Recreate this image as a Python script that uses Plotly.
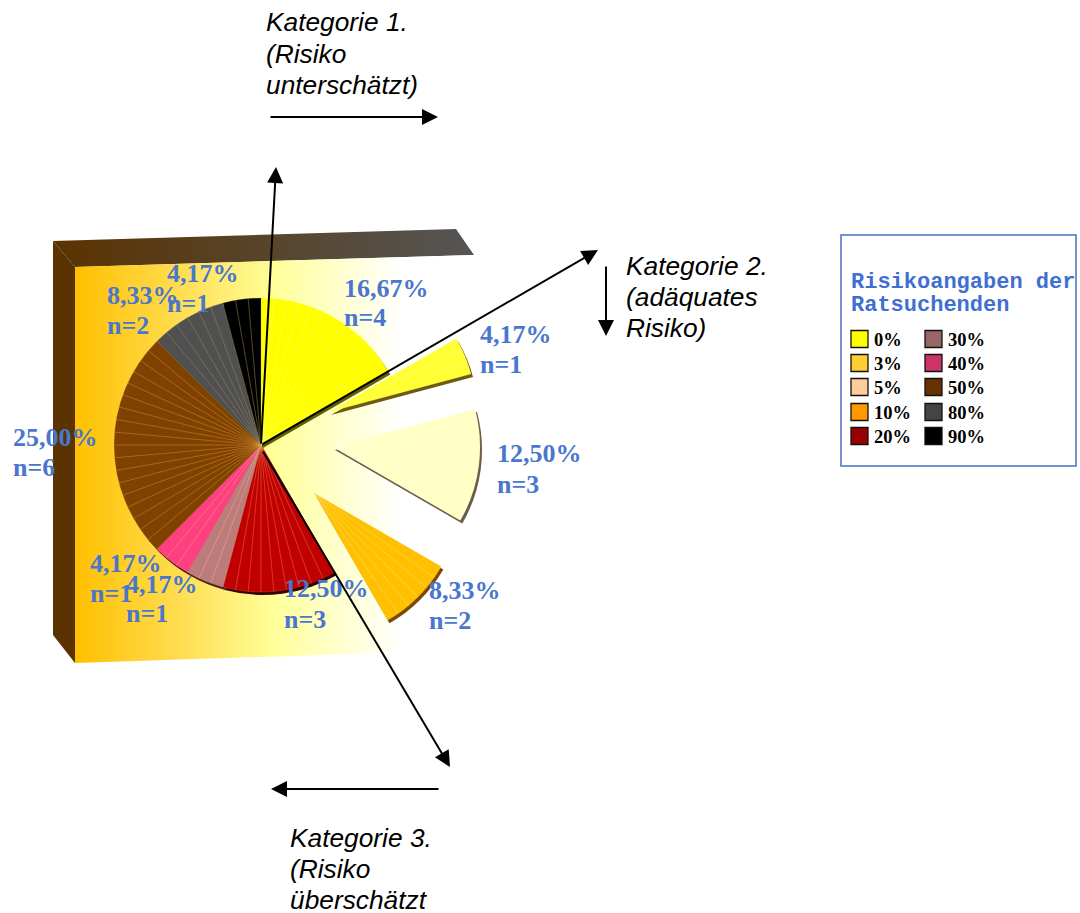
import plotly.graph_objects as go

# Share of clients (percent), count and colour for each stated risk level
risk_levels = ["0%", "3%", "5%", "10%", "20%", "30%", "40%", "50%", "80%", "90%"]
shares = [16.67, 4.17, 12.50, 8.33, 12.50, 4.17, 4.17, 25.00, 8.33, 4.17]
counts = [4, 1, 3, 2, 3, 1, 1, 6, 2, 1]
slice_colors = ["#FFFF00", "#FFFF33", "#FFFFC6", "#FFC000", "#C00000",
                "#BC7C7C", "#FF4080", "#804200", "#505050", "#000000"]
edge_colors = ["#5E5E00", "#6B5A10", "#6B5A48", "#7A4A00", "#3A0000",
               "#4A2020", "#4A1020", "#3A1E00", "#202020", "#000000"]
streak_colors = ["rgba(255,255,170,0.25)", "rgba(255,255,190,0.25)", "rgba(255,255,255,0.2)",
                 "rgba(255,230,160,0.35)", "rgba(255,170,110,0.3)", "rgba(255,210,140,0.3)",
                 "rgba(255,190,150,0.3)", "rgba(230,170,70,0.35)", "rgba(190,170,110,0.3)",
                 "rgba(190,170,90,0.4)"]

# How far each slice is moved out of the pie, in pixels (right, down)
explode_dx = [0, 68, 72, 53, 0, 0, 0, 0, 0, 0]
explode_dy = [0, -33, 2, 48, 0, 0, 0, 0, 0, 0]

# Legend swatches
legend_colors = ["#FFFF00", "#FFCC33", "#FFCC99", "#FF9900", "#990000",
                 "#996666", "#CC3366", "#663300", "#444444", "#000000"]
legend_x = [851 + 8.5] * 5 + [925 + 8.5] * 5
legend_y = [339, 363, 387, 412, 436] * 2
legend_text_x = [874] * 5 + [948] * 5

# Value labels: left edge, centre of first line, centre of second line
label_x = [343, 479, 496, 428, 283, 125, 89, 12, 106, 166]
label_y1 = [288, 334, 453, 590, 588, 584, 563, 437, 295, 273]
label_y2 = [317, 364, 484, 620, 619, 613, 593, 467, 325, 303]

# Category captions
category_lines = [
    (265, ["Kategorie 1.", "(Risiko", "unterschätzt)"], [22, 54, 85]),
    (625, ["Kategorie 2.", "(adäquates", "Risiko)"], [266, 297, 328]),
    (289, ["Kategorie 3.", "(Risiko", "überschätzt"], [838, 869, 900]),
]

# Arrows as (start x, start y, tip x, tip y)
arrows = [
    (261, 445, 276, 167),
    (261, 445, 598, 250),
    (262, 450, 450, 767),
    (269, 117, 438, 117),
    (606, 265, 606, 336),
    (440, 789, 271, 789),
]

# Backdrop panel polygons
front_x = [75, 473, 473, 75, 75]
front_y = [267, 255, 650, 663, 267]
top_x = [53, 456, 474, 75, 53]
top_y = [241, 229, 255, 267, 241]
side_x = [53, 75, 75, 53, 53]
side_y = [241, 267, 663, 635, 241]

W, H = 1080, 913
CX, CY, R = 261, 445, 147
CLEAR = "rgba(0,0,0,0)"


def pie_domain(cx, cy):
    return dict(x=[(cx - R) / W, (cx + R) / W],
                y=[1 - (cy + R) / H, 1 - (cy - R) / H])


def wedge(values, rotation, cx, cy, colors, line_colors=None, line_width=0):
    """One slice of the pie; the remainder of the circle is left transparent."""
    return go.Pie(values=values, labels=[str(i) for i in range(len(values))],
                  domain=pie_domain(cx, cy), sort=False, direction="clockwise",
                  rotation=rotation, textinfo="none", hoverinfo="skip", showlegend=False,
                  marker=dict(colors=colors,
                              line=dict(color=line_colors or [CLEAR] * len(values),
                                        width=line_width)))


fig = go.Figure()

# Backdrop panels
fig.add_trace(go.Scatter(x=side_x, y=side_y, mode="lines", fill="toself", fillcolor="#5A3300",
                         line=dict(width=0), hoverinfo="skip", showlegend=False))
fig.add_trace(go.Scatter(x=top_x, y=top_y, mode="lines", fill="toself", line=dict(width=0),
                         fillgradient=dict(type="horizontal",
                                           colorscale=[[0, "#5A3300"], [1, "#555555"]]),
                         hoverinfo="skip", showlegend=False))
fig.add_trace(go.Scatter(x=front_x, y=front_y, mode="lines", fill="toself", line=dict(width=0),
                         fillgradient=dict(type="horizontal",
                                           colorscale=[[0, "#FFC000"], [0.25, "#FFDB4D"],
                                                       [0.5, "#FFFF99"], [0.82, "#FFFFFF"],
                                                       [1, "#FFFFFF"]]),
                         hoverinfo="skip", showlegend=False))

total = sum(shares)
starts = [360 * sum(shares[:i]) / total for i in range(len(shares))]

# Extruded edge underneath all slices
for i, share in enumerate(shares):
    fig.add_trace(wedge([share, total - share], starts[i],
                        CX + explode_dx[i] + 2, CY + explode_dy[i] + 3,
                        [edge_colors[i], CLEAR]))

# Slices, each with fine radial streaks every five degrees
for i, share in enumerate(shares):
    cx, cy = CX + explode_dx[i], CY + explode_dy[i]
    fig.add_trace(wedge([share, total - share], starts[i], cx, cy, [slice_colors[i], CLEAR]))
    n = max(1, round(360 * share / total / 5))
    fig.add_trace(wedge([share / n] * n + [total - share], starts[i], cx, cy,
                        [CLEAR] * (n + 1), [streak_colors[i]] * n + [CLEAR], 0.6))

# Legend swatches
fig.add_trace(go.Scatter(x=legend_x, y=legend_y, mode="markers", cliponaxis=False,
                         marker=dict(symbol="square", size=17, color=legend_colors,
                                     line=dict(color="#111111", width=1.3)),
                         hoverinfo="skip", showlegend=False))

annotations = []


def add_text(x, y, text, **font):
    annotations.append(dict(x=x, y=y, xref="x", yref="y", text=text, showarrow=False,
                            xanchor="left", yanchor="middle", align="left", borderpad=0,
                            font=font))


LABEL_FONT = dict(family="Liberation Serif", size=26, color="#4A76CE", weight="bold")
for x, y1, y2, share, count in zip(label_x, label_y1, label_y2, shares, counts):
    add_text(x, y1, f"{share:.2f}%".replace(".", ","), **LABEL_FONT)
    add_text(x, y2, f"n={count}", **LABEL_FONT)

CAPTION_FONT = dict(family="Liberation Sans", size=26.3, color="#000000", style="italic")
for x, lines, ys in category_lines:
    for line, y in zip(lines, ys):
        add_text(x, y, line, **CAPTION_FONT)

LEGEND_TITLE = dict(family="Liberation Mono", size=22, color="#3F6FD0", weight="bold")
add_text(850, 282, "Risikoangaben der", **LEGEND_TITLE)
add_text(850, 305, "Ratsuchenden", **LEGEND_TITLE)

LEGEND_FONT = dict(family="Liberation Serif", size=18.5, color="#000000", weight="bold")
for x, y, level in zip(legend_text_x, legend_y, risk_levels):
    add_text(x - 1, y + 1, level, **LEGEND_FONT)

for x0, y0, x1, y1 in arrows:
    annotations.append(dict(x=x1, y=y1, ax=x0, ay=y0, xref="x", yref="y", axref="x", ayref="y",
                            text="", showarrow=True, arrowhead=2, arrowsize=1.6, arrowwidth=2,
                            arrowcolor="#000000"))

fig.update_layout(
    width=W, height=H, margin=dict(l=0, r=0, t=0, b=0, pad=0),
    paper_bgcolor="#FFFFFF", plot_bgcolor="#FFFFFF", showlegend=False,
    xaxis=dict(range=[0, W], visible=False, fixedrange=True),
    yaxis=dict(range=[H, 0], visible=False, fixedrange=True),
    annotations=annotations,
    shapes=[dict(type="rect", xref="x", yref="y", x0=841, y0=235, x1=1076, y1=466,
                 line=dict(color="#4472C4", width=1.5), fillcolor="#FFFFFF", layer="below")],
)

fig.write_html("out.html", config=dict(displayModeBar=False))
